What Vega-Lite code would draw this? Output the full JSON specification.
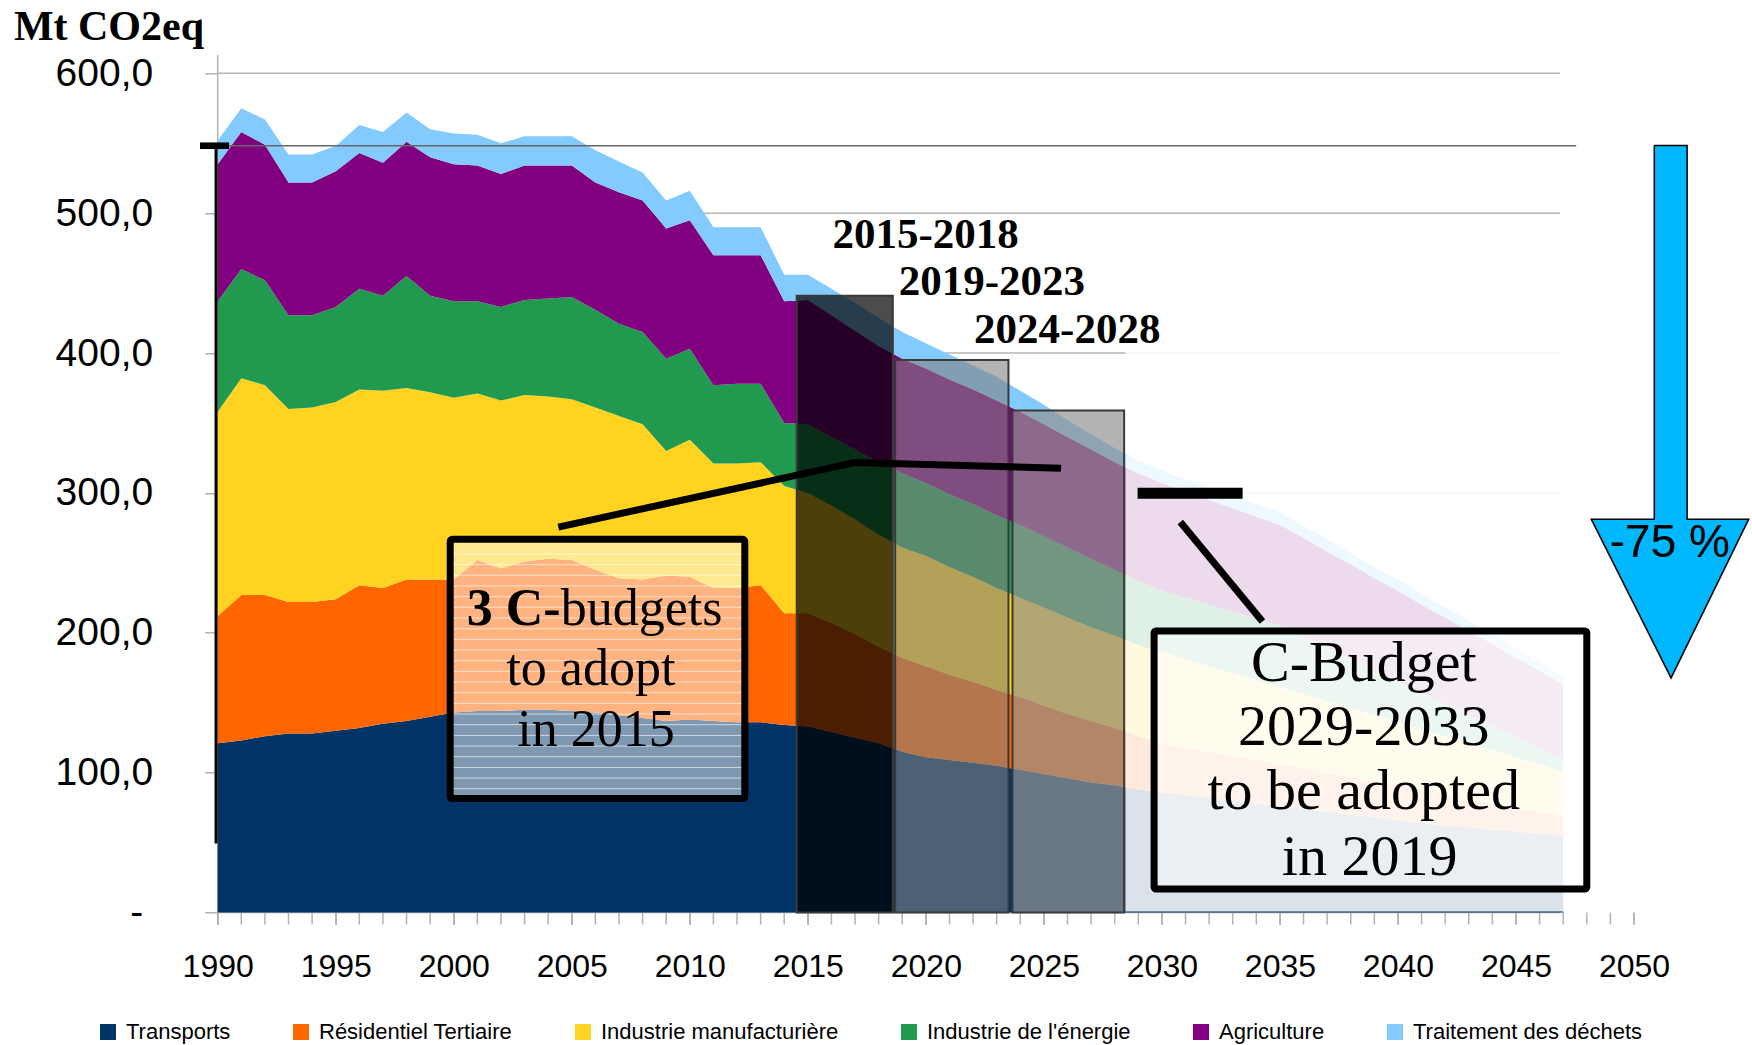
{
 "$schema": "https://vega.github.io/schema/vega-lite/v6.json",
 "width": 1416.3,
 "height": 839.2,
 "padding": {"left": 217.7, "top": 73.3, "right": 118, "bottom": 132.5},
 "autosize": {"type": "none"},
 "background": "white",
 "config": {"view": {"stroke": null}, "font": "Liberation Sans"},
 "datasets": {
  "em": [
   {"year":1990,"T":121,"R":91,"I":146,"E":79,"A":98,"W":17},
   {"year":1991,"T":123,"R":104,"I":155,"E":78,"A":98,"W":17},
   {"year":1992,"T":126,"R":101,"I":150,"E":75,"A":97,"W":18},
   {"year":1993,"T":128,"R":94,"I":138,"E":67,"A":95,"W":20},
   {"year":1994,"T":128,"R":94,"I":139,"E":66,"A":95,"W":20},
   {"year":1995,"T":130,"R":94,"I":141,"E":68,"A":97,"W":18},
   {"year":1996,"T":132,"R":102,"I":140,"E":72,"A":97,"W":20},
   {"year":1997,"T":135,"R":97,"I":141,"E":68,"A":95,"W":22},
   {"year":1998,"T":137,"R":101,"I":137,"E":80,"A":96,"W":21},
   {"year":1999,"T":140,"R":98,"I":134,"E":69,"A":99,"W":20},
   {"year":2000,"T":143,"R":95,"I":130,"E":69,"A":98,"W":22},
   {"year":2001,"T":144,"R":108,"I":119,"E":66,"A":97,"W":22},
   {"year":2002,"T":144,"R":102,"I":120,"E":67,"A":95,"W":22},
   {"year":2003,"T":145,"R":106,"I":119,"E":68,"A":96,"W":21},
   {"year":2004,"T":145,"R":108,"I":116,"E":70,"A":95,"W":21},
   {"year":2005,"T":144,"R":108,"I":115,"E":73,"A":94,"W":21},
   {"year":2006,"T":143,"R":102,"I":116,"E":70,"A":91,"W":23},
   {"year":2007,"T":141,"R":98,"I":116,"E":66,"A":94,"W":22},
   {"year":2008,"T":139,"R":99,"I":111,"E":66,"A":94,"W":20},
   {"year":2009,"T":137,"R":104,"I":89,"E":66,"A":93,"W":20},
   {"year":2010,"T":138,"R":102,"I":98,"E":65,"A":92,"W":21},
   {"year":2011,"T":137,"R":95,"I":89,"E":56,"A":93,"W":20},
   {"year":2012,"T":136,"R":96,"I":89,"E":57,"A":92,"W":20},
   {"year":2013,"T":136,"R":98,"I":88,"E":56,"A":92,"W":20},
   {"year":2014,"T":134,"R":80,"I":91,"E":45,"A":87,"W":19},
   {"year":2015,"T":133,"R":81,"I":86,"E":49,"A":89,"W":18},
   {"year":2016,"T":129,"R":78,"I":84,"E":49,"A":87,"W":19},
   {"year":2017,"T":125,"R":74,"I":82,"E":50,"A":85,"W":20},
   {"year":2018,"T":121,"R":69,"I":80,"E":52,"A":83,"W":20},
   {"year":2019,"T":115,"R":67,"I":79,"E":53,"A":82,"W":19},
   {"year":2020,"T":111,"R":65,"I":79,"E":52,"A":82,"W":18},
   {"year":2021,"T":109,"R":61,"I":77,"E":52,"A":82,"W":18},
   {"year":2022,"T":107,"R":58,"I":75,"E":52,"A":82,"W":17},
   {"year":2023,"T":105,"R":54,"I":73,"E":52,"A":82,"W":17},
   {"year":2024,"T":102,"R":52,"I":71,"E":52,"A":81,"W":15},
   {"year":2025,"T":99,"R":49,"I":70,"E":51,"A":80,"W":14},
   {"year":2026,"T":96,"R":46,"I":69,"E":50,"A":79,"W":12},
   {"year":2027,"T":93,"R":44,"I":67,"E":49,"A":78,"W":11},
   {"year":2028,"T":91,"R":41,"I":66,"E":47,"A":77,"W":10},
   {"year":2029,"T":88,"R":38,"I":65,"E":46,"A":77,"W":9},
   {"year":2030,"T":86,"R":35,"I":65,"E":44,"A":77,"W":9},
   {"year":2031,"T":84,"R":34,"I":63,"E":44,"A":76,"W":9},
   {"year":2032,"T":82,"R":33,"I":61,"E":44,"A":75,"W":9},
   {"year":2033,"T":80,"R":32,"I":59,"E":44,"A":74,"W":9},
   {"year":2034,"T":78,"R":31,"I":57,"E":44,"A":73,"W":9},
   {"year":2035,"T":76,"R":30,"I":55,"E":44,"A":72,"W":9},
   {"year":2036,"T":74,"R":29,"I":53,"E":41,"A":71,"W":8},
   {"year":2037,"T":72,"R":28,"I":51,"E":38,"A":69,"W":9},
   {"year":2038,"T":70,"R":27,"I":49,"E":35,"A":68,"W":8},
   {"year":2039,"T":68,"R":26,"I":47,"E":32,"A":66,"W":8},
   {"year":2040,"T":66,"R":25,"I":45,"E":29,"A":65,"W":8},
   {"year":2041,"T":64,"R":24,"I":43,"E":26,"A":63,"W":8},
   {"year":2042,"T":62,"R":23,"I":41,"E":23,"A":62,"W":7},
   {"year":2043,"T":61,"R":20,"I":40,"E":20,"A":60,"W":8},
   {"year":2044,"T":59,"R":19,"I":38,"E":17,"A":59,"W":7},
   {"year":2045,"T":58,"R":17,"I":36,"E":14,"A":57,"W":7},
   {"year":2046,"T":56,"R":16,"I":34,"E":11,"A":56,"W":6},
   {"year":2047,"T":55,"R":14,"I":32,"E":8,"A":54,"W":6}
  ],
  "sectors": [
   {"code":"T","name":"Transports","ord":1},
   {"code":"R","name":"Résidentiel Tertiaire","ord":2},
   {"code":"I","name":"Industrie manufacturière","ord":3},
   {"code":"E","name":"Industrie de l'énergie","ord":4},
   {"code":"A","name":"Agriculture","ord":5},
   {"code":"W","name":"Traitement des déchets","ord":6}
  ],
  "budgets": [
   {"label":"2015-2018","b0":2014.53,"b1":2018.6,"v":441,"base":0,"lx":2019.99,"ly":475},
   {"label":"2019-2023","b0":2018.7,"b1":2023.5,"v":395,"base":0,"lx":2022.8,"ly":441.6},
   {"label":"2024-2028","b0":2023.67,"b1":2028.4,"v":359,"base":0,"lx":2025.99,"ly":407.5}
  ],
  "yearticks": [
   {"yr":1990},{"yr":1991},{"yr":1992},{"yr":1993},{"yr":1994},{"yr":1995},{"yr":1996},{"yr":1997},{"yr":1998},{"yr":1999},
   {"yr":2000},{"yr":2001},{"yr":2002},{"yr":2003},{"yr":2004},{"yr":2005},{"yr":2006},{"yr":2007},{"yr":2008},{"yr":2009},
   {"yr":2010},{"yr":2011},{"yr":2012},{"yr":2013},{"yr":2014},{"yr":2015},{"yr":2016},{"yr":2017},{"yr":2018},{"yr":2019},
   {"yr":2020},{"yr":2021},{"yr":2022},{"yr":2023},{"yr":2024},{"yr":2025},{"yr":2026},{"yr":2027},{"yr":2028},{"yr":2029},
   {"yr":2030},{"yr":2031},{"yr":2032},{"yr":2033},{"yr":2034},{"yr":2035},{"yr":2036},{"yr":2037},{"yr":2038},{"yr":2039},
   {"yr":2040},{"yr":2041},{"yr":2042},{"yr":2043},{"yr":2044},{"yr":2045},{"yr":2046},{"yr":2047},{"yr":2048},{"yr":2049},{"yr":2050}
  ],
  "stripes": [
   {"s":256.4},{"s":248.7},{"s":241.1},{"s":233.5},{"s":225.8},{"s":218.2},{"s":210.6},{"s":202.9},
   {"s":195.3},{"s":187.7},{"s":180.0},{"s":172.4},{"s":164.8},{"s":157.2},{"s":149.5},{"s":141.9},
   {"s":134.3},{"s":126.6},{"s":119.0},{"s":111.4},{"s":103.7},{"s":96.1},{"s":88.5}
  ]
 },
 "layer": [
  {
   "data": {"values": [{"g":0,"a":1990,"b":2046.87},{"g":100,"a":1990,"b":2046.87},{"g":200,"a":1990,"b":2046.87},{"g":300,"a":1990,"b":2046.87},{"g":400,"a":1990,"b":2046.87},{"g":500,"a":1990,"b":2046.87},{"g":600,"a":1990,"b":2046.87}]},
   "mark": {"type": "rule", "color": "#b3b3b3", "strokeWidth": 1.5},
   "encoding": {
    "x": {"field": "a", "type": "quantitative",
     "scale": {"domain": [1990, 2050], "nice": false, "zero": false},
     "axis": {"values": [1990,1995,2000,2005,2010,2015,2020,2025,2030,2035,2040,2045,2050],
      "format": "d",
      "labelFont": "Liberation Sans", "labelFontSize": 32, "labelColor": "#000", "labelPadding": 27, "labelBaseline": "top",
      "ticks": true, "tickSize": 12, "tickColor": "#b3b3b3", "tickWidth": 1.5, "domain": false, "grid": false, "title": null,
      "labelFlush": false, "labelOverlap": false, "labelBound": false}},
    "x2": {"field": "b"},
    "y": {"field": "g", "type": "quantitative",
     "scale": {"domain": [0, 600], "nice": false},
     "axis": {"values": [0,100,200,300,400,500,600],
      "labelExpr": "datum.value == 0 ? '-' : replace(format(datum.value, '.1f'), '.', ',')",
      "labelFont": "Liberation Sans", "labelFontSize": 39, "labelColor": "#000",
      "labelPadding": {"condition": {"test": "datum.value == 0", "value": 62}, "value": 52},
      "ticks": true, "tickSize": 13, "tickColor": "#b3b3b3", "tickWidth": 1.5, "domain": false, "grid": false,
      "labelFlush": false,
      "title": "Mt CO2eq", "titleFont": "Liberation Serif", "titleFontSize": 42, "titleFontWeight": "bold", "titleColor": "#000",
      "titleAngle": 0, "titleAlign": "left", "titleBaseline": "alphabetic", "titleX": -204.3, "titleY": -33.6}}
   }
  },
  {
   "data": {"name": "yearticks"},
   "transform": [{"filter": "datum.yr >= 1990"}],
   "mark": {"type": "rule", "color": "#b3b3b3", "strokeWidth": 1.5},
   "encoding": {
    "x": {"field": "yr", "type": "quantitative", "scale": {"domain": [1990, 2050], "nice": false, "zero": false}},
    "y": {"datum": 0, "type": "quantitative", "scale": {"domain": [0, 600], "nice": false}},
    "y2": {"datum": -8.6}
   }
  },
  {
   "data": {"values": [{"x":1990,"y0":0,"y1":613}]},
   "mark": {"type": "rule", "color": "#b3b3b3", "strokeWidth": 1.5},
   "encoding": {
    "x": {"field": "x", "type": "quantitative", "scale": {"domain": [1990, 2050], "nice": false, "zero": false}},
    "y": {"field": "y0", "type": "quantitative", "scale": {"domain": [0, 600], "nice": false}},
    "y2": {"field": "y1"}
   }
  },
  {
   "data": {"name": "em"},
   "transform": [
    {"fold": ["T", "R", "I", "E", "A", "W"], "as": ["code", "v"]},
    {"lookup": "code", "from": {"data": {"name": "sectors"}, "key": "code", "fields": ["name", "ord"]}}
   ],
   "mark": {"type": "area", "interpolate": "linear"},
   "encoding": {
    "x": {"field": "year", "type": "quantitative", "scale": {"domain": [1990, 2050], "nice": false, "zero": false}},
    "y": {"field": "v", "type": "quantitative", "stack": "zero", "scale": {"domain": [0, 600], "nice": false}},
    "color": {"field": "name", "type": "nominal",
     "scale": {"domain": ["Transports", "Résidentiel Tertiaire", "Industrie manufacturière", "Industrie de l'énergie", "Agriculture", "Traitement des déchets"],
      "range": ["#003366", "#ff6600", "#ffd320", "#219a50", "#800080", "#83caff"]},
     "legend": {"orient": "none", "legendX": -120.7, "legendY": 947.7, "direction": "horizontal", "title": null,
      "symbolType": "square", "symbolSize": 256, "symbolStrokeWidth": 0, "symbolOpacity": 1,
      "labelFont": "Liberation Sans", "labelFontSize": 22, "labelColor": "#000", "labelOffset": 7,
      "columnPadding": 59, "padding": 0, "labelLimit": 400}},
    "order": {"field": "ord", "type": "quantitative"}
   }
  },
  {
   "data": {"values": [{"x0":2028.45,"x1":2047.1,"y0":0.8,"y1":480}]},
   "mark": {"type": "rect", "fill": "#ffffff", "fillOpacity": 0.86},
   "encoding": {
    "x": {"field": "x0", "type": "quantitative", "scale": {"domain": [1990, 2050], "nice": false, "zero": false}},
    "x2": {"field": "x1"},
    "y": {"field": "y1", "type": "quantitative", "scale": {"domain": [0, 600], "nice": false}},
    "y2": {"field": "y0"}
   }
  },
  {
   "data": {"name": "budgets"},
   "transform": [{"filter": "datum.label == '2015-2018'"}],
   "mark": {"type": "rect", "fill": "#000000", "fillOpacity": 0.7, "stroke": "#3a3a3a", "strokeWidth": 2},
   "encoding": {
    "x": {"field": "b0", "type": "quantitative", "scale": {"domain": [1990, 2050], "nice": false, "zero": false}},
    "x2": {"field": "b1"},
    "y": {"field": "v", "type": "quantitative", "scale": {"domain": [0, 600], "nice": false}},
    "y2": {"field": "base"}
   }
  },
  {
   "data": {"name": "budgets"},
   "transform": [{"filter": "datum.label == '2019-2023'"}],
   "mark": {"type": "rect", "fill": "#808080", "fillOpacity": 0.6, "stroke": "#3a3a3a", "strokeWidth": 2},
   "encoding": {
    "x": {"field": "b0", "type": "quantitative", "scale": {"domain": [1990, 2050], "nice": false, "zero": false}},
    "x2": {"field": "b1"},
    "y": {"field": "v", "type": "quantitative", "scale": {"domain": [0, 600], "nice": false}},
    "y2": {"field": "base"}
   }
  },
  {
   "data": {"name": "budgets"},
   "transform": [{"filter": "datum.label == '2024-2028'"}],
   "mark": {"type": "rect", "fill": "#949494", "fillOpacity": 0.71, "stroke": "#3a3a3a", "strokeWidth": 2},
   "encoding": {
    "x": {"field": "b0", "type": "quantitative", "scale": {"domain": [1990, 2050], "nice": false, "zero": false}},
    "x2": {"field": "b1"},
    "y": {"field": "v", "type": "quantitative", "scale": {"domain": [0, 600], "nice": false}},
    "y2": {"field": "base"}
   }
  },
  {
   "data": {"values": [{"x0":1990,"x1":2047.55,"y":548.2}]},
   "mark": {"type": "rule", "color": "#666666", "strokeWidth": 1.5},
   "encoding": {
    "x": {"field": "x0", "type": "quantitative", "scale": {"domain": [1990, 2050], "nice": false, "zero": false}},
    "x2": {"field": "x1"},
    "y": {"field": "y", "type": "quantitative", "scale": {"domain": [0, 600], "nice": false}}
   }
  },
  {
   "data": {"values": [{"x0":1989.25,"x1":1990.48,"y":548.2}]},
   "mark": {"type": "rule", "color": "#000000", "strokeWidth": 6.6},
   "encoding": {
    "x": {"field": "x0", "type": "quantitative", "scale": {"domain": [1990, 2050], "nice": false, "zero": false}},
    "x2": {"field": "x1"},
    "y": {"field": "y", "type": "quantitative", "scale": {"domain": [0, 600], "nice": false}}
   }
  },
  {
   "data": {"values": [{"x":1989.93,"y0":49.3,"y1":548.2}]},
   "mark": {"type": "rule", "color": "#000000", "strokeWidth": 3},
   "encoding": {
    "x": {"field": "x", "type": "quantitative", "scale": {"domain": [1990, 2050], "nice": false, "zero": false}},
    "y": {"field": "y0", "type": "quantitative", "scale": {"domain": [0, 600], "nice": false}},
    "y2": {"field": "y1"}
   }
  },
  {
   "data": {"values": [{"x0":1999.85,"x1":2012.33,"y0":81.5,"y1":266.8}]},
   "mark": {"type": "rect", "fill": "#ffffff", "fillOpacity": 0.5, "stroke": "#000000", "strokeWidth": 7, "cornerRadius": 2},
   "encoding": {
    "x": {"field": "x0", "type": "quantitative", "scale": {"domain": [1990, 2050], "nice": false, "zero": false}},
    "x2": {"field": "x1"},
    "y": {"field": "y1", "type": "quantitative", "scale": {"domain": [0, 600], "nice": false}},
    "y2": {"field": "y0"}
   }
  },
  {
   "data": {"name": "stripes"},
   "mark": {"type": "rule", "color": "#ffffff", "strokeWidth": 1, "opacity": 0.6},
   "encoding": {
    "x": {"datum": 2000.0, "type": "quantitative", "scale": {"domain": [1990, 2050], "nice": false, "zero": false}},
    "x2": {"datum": 2012.18},
    "y": {"field": "s", "type": "quantitative", "scale": {"domain": [0, 600], "nice": false}}
   }
  },
  {
   "data": {"values": [{"x0":2029.67,"x1":2048.0,"y0":16.8,"y1":201.3}]},
   "mark": {"type": "rect", "fill": "#ffffff", "fillOpacity": 0.45, "stroke": "#000000", "strokeWidth": 7, "cornerRadius": 2},
   "encoding": {
    "x": {"field": "x0", "type": "quantitative", "scale": {"domain": [1990, 2050], "nice": false, "zero": false}},
    "x2": {"field": "x1"},
    "y": {"field": "y1", "type": "quantitative", "scale": {"domain": [0, 600], "nice": false}},
    "y2": {"field": "y0"}
   }
  },
  {
   "data": {"values": [
    {"id":"a","o":1,"x":2004.43,"y":275.5},
    {"id":"a","o":2,"x":2016.98,"y":321.7},
    {"id":"a","o":3,"x":2025.73,"y":317.7},
    {"id":"b","o":1,"x":2030.78,"y":279.2},
    {"id":"b","o":2,"x":2034.26,"y":208.0}
   ]},
   "mark": {"type": "line", "color": "#000000", "strokeWidth": 7, "strokeCap": "butt"},
   "encoding": {
    "x": {"field": "x", "type": "quantitative", "scale": {"domain": [1990, 2050], "nice": false, "zero": false}},
    "y": {"field": "y", "type": "quantitative", "scale": {"domain": [0, 600], "nice": false}},
    "detail": {"field": "id", "type": "nominal"},
    "order": {"field": "o", "type": "quantitative"}
   }
  },
  {
   "data": {"values": [{"x0":2028.97,"x1":2033.42,"y":299.8}]},
   "mark": {"type": "rule", "color": "#000000", "strokeWidth": 11},
   "encoding": {
    "x": {"field": "x0", "type": "quantitative", "scale": {"domain": [1990, 2050], "nice": false, "zero": false}},
    "x2": {"field": "x1"},
    "y": {"field": "y", "type": "quantitative", "scale": {"domain": [0, 600], "nice": false}}
   }
  },
  {
   "data": {"values": [
    {"o":1,"x":2050.86,"y":548.4},
    {"o":2,"x":2050.86,"y":281.2},
    {"o":3,"x":2048.19,"y":281.2},
    {"o":4,"x":2051.57,"y":167.7},
    {"o":5,"x":2054.86,"y":281.2},
    {"o":6,"x":2052.25,"y":281.2},
    {"o":7,"x":2052.25,"y":548.4},
    {"o":8,"x":2050.86,"y":548.4}
   ]},
   "mark": {"type": "line", "fill": "#00b8ff", "stroke": "#000000", "strokeWidth": 1.5, "strokeJoin": "miter"},
   "encoding": {
    "x": {"field": "x", "type": "quantitative", "scale": {"domain": [1990, 2050], "nice": false, "zero": false}},
    "y": {"field": "y", "type": "quantitative", "scale": {"domain": [0, 600], "nice": false}},
    "order": {"field": "o", "type": "quantitative"}
   }
  },
  {
   "data": {"name": "budgets"},
   "mark": {"type": "text", "font": "Liberation Serif", "fontSize": 43, "fontWeight": "bold", "color": "#000000", "align": "center", "baseline": "alphabetic"},
   "encoding": {
    "x": {"field": "lx", "type": "quantitative", "scale": {"domain": [1990, 2050], "nice": false, "zero": false}},
    "y": {"field": "ly", "type": "quantitative", "scale": {"domain": [0, 600], "nice": false}},
    "text": {"field": "label", "type": "nominal"}
   }
  },
  {
   "data": {"values": [{"t":"3 C-","x":2004.53,"y":205.6}]},
   "mark": {"type": "text", "font": "Liberation Serif", "fontSize": 52, "fontWeight": "bold", "color": "#000000", "align": "right", "baseline": "alphabetic"},
   "encoding": {
    "x": {"field": "x", "type": "quantitative", "scale": {"domain": [1990, 2050], "nice": false, "zero": false}},
    "y": {"field": "y", "type": "quantitative", "scale": {"domain": [0, 600], "nice": false}},
    "text": {"field": "t", "type": "nominal"}
   }
  },
  {
   "data": {"values": [{"t":"budgets","x":2004.53,"y":205.6}]},
   "mark": {"type": "text", "font": "Liberation Serif", "fontSize": 52, "color": "#000000", "align": "left", "baseline": "alphabetic"},
   "encoding": {
    "x": {"field": "x", "type": "quantitative", "scale": {"domain": [1990, 2050], "nice": false, "zero": false}},
    "y": {"field": "y", "type": "quantitative", "scale": {"domain": [0, 600], "nice": false}},
    "text": {"field": "t", "type": "nominal"}
   }
  },
  {
   "data": {"values": [{"t":"to adopt","x":2005.81,"y":162.7},{"t":"in 2015","x":2006.03,"y":118.8}]},
   "mark": {"type": "text", "font": "Liberation Serif", "fontSize": 52, "color": "#000000", "align": "center", "baseline": "alphabetic"},
   "encoding": {
    "x": {"field": "x", "type": "quantitative", "scale": {"domain": [1990, 2050], "nice": false, "zero": false}},
    "y": {"field": "y", "type": "quantitative", "scale": {"domain": [0, 600], "nice": false}},
    "text": {"field": "t", "type": "nominal"}
   }
  },
  {
   "data": {"values": [
    {"t":"C-Budget","x":2038.55,"y":165.8},
    {"t":"2029-2033","x":2038.55,"y":119.8},
    {"t":"to be adopted","x":2038.55,"y":73.8},
    {"t":"in 2019","x":2038.8,"y":26.5}
   ]},
   "mark": {"type": "text", "font": "Liberation Serif", "fontSize": 58, "color": "#000000", "align": "center", "baseline": "alphabetic"},
   "encoding": {
    "x": {"field": "x", "type": "quantitative", "scale": {"domain": [1990, 2050], "nice": false, "zero": false}},
    "y": {"field": "y", "type": "quantitative", "scale": {"domain": [0, 600], "nice": false}},
    "text": {"field": "t", "type": "nominal"}
   }
  },
  {
   "data": {"values": [{"t":"-75 %","x":2051.52,"y":254}]},
   "mark": {"type": "text", "font": "Liberation Sans", "fontSize": 46, "color": "#000000", "align": "center", "baseline": "alphabetic"},
   "encoding": {
    "x": {"field": "x", "type": "quantitative", "scale": {"domain": [1990, 2050], "nice": false, "zero": false}},
    "y": {"field": "y", "type": "quantitative", "scale": {"domain": [0, 600], "nice": false}},
    "text": {"field": "t", "type": "nominal"}
   }
  }
 ]
}
